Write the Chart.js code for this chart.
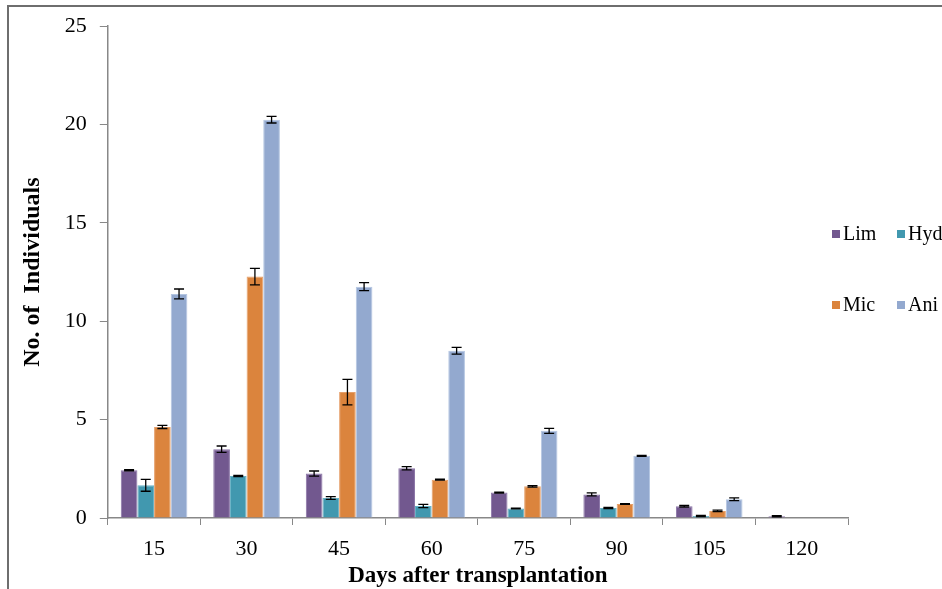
<!DOCTYPE html>
<html>
<head>
<meta charset="utf-8">
<script src="https://cdn.jsdelivr.net/npm/chart.js@4/dist/chart.umd.min.js"></script>
<style>
  html, body { margin: 0; padding: 0; background: #fff; }
  #wrap { position: relative; width: 942px; height: 589px; overflow: hidden; }
  #frame { position: absolute; left: 7px; top: 5px; width: 1000px; height: 700px;
           border-left: 2px solid #6e6e6e; border-top: 2px solid #6e6e6e; }
  canvas { position: absolute; left: 0; top: 0; }
  .leg { position: absolute; white-space: nowrap; font-family: "Liberation Serif", serif; font-size: 20px; color: #000; }
  .leg i { display: inline-block; width: 8px; height: 8px; margin-right: 3px; vertical-align: 2px; }
</style>
</head>
<body>
<div id="wrap">
  <div id="frame"></div>
  <canvas id="chart" width="942" height="589"></canvas>
  <div id="legend"></div>
</div>
<script>
const days = ['15', '30', '45', '60', '75', '90', '105', '120'];
const seriesNames = ['Lim', 'Hyd', 'Mic', 'Ani'];
const lim = [2.43, 3.50, 2.26, 2.53, 1.29, 1.20, 0.60, 0.09];
const hyd = [1.66, 2.14, 1.02, 0.61, 0.48, 0.51, 0.10, 0];
const mic = [4.63, 12.27, 6.40, 1.95, 1.61, 0.71, 0.36, 0];
const ani = [11.39, 20.25, 11.76, 8.50, 4.43, 3.16, 0.95, 0];
// standard errors
const limErr = [0.03, 0.16, 0.13, 0.08, 0.03, 0.08, 0.04, 0.03];
const hydErr = [0.30, 0.03, 0.07, 0.08, 0.02, 0.03, 0.03, 0];
const micErr = [0.08, 0.42, 0.65, 0.02, 0.04, 0.02, 0.04, 0];
const aniErr = [0.25, 0.17, 0.20, 0.17, 0.13, 0.02, 0.07, 0];
const yTicks = [0, 5, 10, 15, 20, 25];

const colors = ['#72588f', '#4198af', '#db843d', '#93a9cf'];
const edges = ['#8a74a6', '#67b1c4', '#e6a06a', '#b4c6e2'];
const values = [lim, hyd, mic, ani];
const errors = [limErr, hydErr, micErr, aniErr];

const errorBars = {
  id: 'errorBars',
  afterDatasetsDraw(chart) {
    const ctx = chart.ctx;
    const y = chart.scales.y;
    ctx.save();
    ctx.strokeStyle = '#000';
    ctx.lineWidth = 1.3;
    chart.data.datasets.forEach((ds, i) => {
      const meta = chart.getDatasetMeta(i);
      meta.data.forEach((bar, j) => {
        const v = ds.data[j], e = ds.err[j];
        if (!v) return;
        const top = y.getPixelForValue(v + e);
        const bot = y.getPixelForValue(Math.max(v - e, 0));
        ctx.beginPath();
        ctx.moveTo(bar.x, top); ctx.lineTo(bar.x, bot);
        ctx.moveTo(bar.x - 5, top); ctx.lineTo(bar.x + 5, top);
        ctx.moveTo(bar.x - 5, bot); ctx.lineTo(bar.x + 5, bot);
        ctx.stroke();
      });
    });
    ctx.restore();
  }
};

const serif = '"Liberation Serif", "Times New Roman", serif';

new Chart(document.getElementById('chart'), {
  type: 'bar',
  data: {
    labels: days,
    datasets: seriesNames.map((name, i) => ({
      label: name,
      data: values[i],
      err: errors[i],
      backgroundColor: colors[i],
      borderColor: edges[i],
      borderWidth: 1,
      categoryPercentage: 0.72,
      barPercentage: 1.0
    }))
  },
  options: {
    responsive: false,
    animation: false,
    layout: { padding: { left: 18, top: 14, right: 94, bottom: 1 } },
    plugins: { legend: { display: false }, tooltip: { enabled: false } },
    scales: {
      x: {
        grid: { drawOnChartArea: false, drawTicks: true, tickLength: 7, color: '#888' },
        border: { display: true, color: '#888', width: 1.5 },
        ticks: { color: '#000', font: { family: serif, size: 22, lineHeight: 1 }, padding: 13 },
        title: { display: true, text: 'Days after transplantation', color: '#000',
                 font: { family: serif, size: 23, weight: 'bold', lineHeight: 1 }, padding: { top: -8, bottom: 0 } }
      },
      y: {
        min: 0, max: 25,
        afterBuildTicks: axis => { axis.ticks = yTicks.map(v => ({ value: v })); },
        grid: { drawOnChartArea: false, drawTicks: true, tickLength: 8, color: '#888' },
        border: { display: true, color: '#888', width: 1.5 },
        ticks: { color: '#000', font: { family: serif, size: 22 }, padding: 13 },
        title: { display: true, text: 'No. of  Individuals', color: '#000',
                 font: { family: serif, size: 24, weight: 'bold' }, padding: { top: 0, bottom: 5 } }
      }
    }
  },
  plugins: [errorBars]
});

// legend laid out 2 x 2 like the original
const legPos = [[832, 222], [897, 222], [832, 293], [897, 293]];
const legend = document.getElementById('legend');
seriesNames.forEach((name, i) => {
  const d = document.createElement('div');
  d.className = 'leg';
  d.style.left = legPos[i][0] + 'px';
  d.style.top = legPos[i][1] + 'px';
  d.innerHTML = `<i style="background:${colors[i]}"></i>${name}`;
  legend.appendChild(d);
});
</script>
</body>
</html>
